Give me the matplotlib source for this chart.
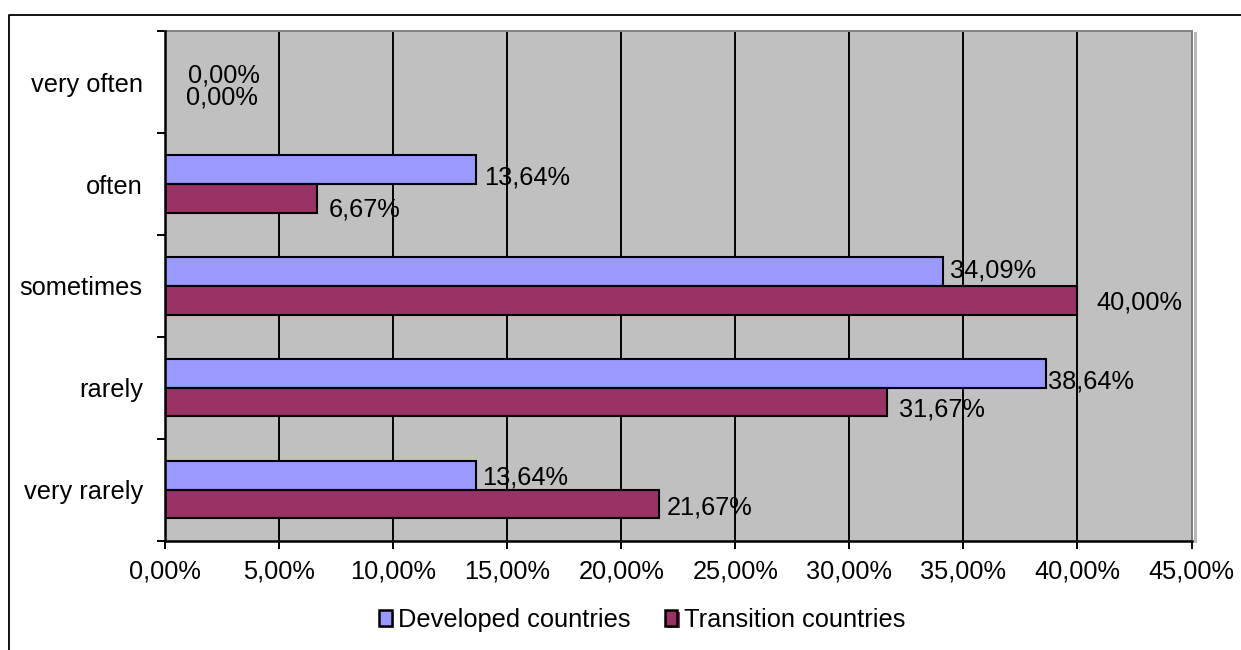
import matplotlib
matplotlib.use('Agg')
import matplotlib.pyplot as plt
from matplotlib.patches import Patch
from matplotlib.lines import Line2D
import matplotlib.patheffects as pe

plt.rcParams['font.family'] = ['Liberation Sans', 'DejaVu Sans']

categories = ["very often", "often", "sometimes", "rarely", "very rarely"]
developed = [0.00, 13.64, 34.09, 38.64, 13.64]
transition = [0.00, 6.67, 40.00, 31.67, 21.67]
x_ticks = [0, 5, 10, 15, 20, 25, 30, 35, 40, 45]
series_names = ["Developed countries", "Transition countries"]

# label nudges in pixels (Excel placed them a bit irregularly)
dev_dx = [23, 8, 7, 2, 6]
dev_dy = [-7.5, -7.5, 1, -8.5, -2.5]
tra_dx = [21, 12, 19, 12, 7]
tra_dy = [-1.2, -11, -2.5, -7.5, -3.5]

c_dev = "#9999FF"
c_tra = "#993366"
fs = 18.3


def fmt(v):
    return f"{v:.2f}".replace(".", ",") + "%"


W, H = 1241, 650
fig = plt.figure(figsize=(W / 100, H / 100), dpi=100)
ax = fig.add_axes([165 / W, 1 - 540.5 / H, 1026.5 / W, 509.2 / H])
ax.set_facecolor("#C0C0C0")

h = 0.282
ypos = list(range(len(categories)))
ax.barh([y - h / 2 for y in ypos], developed, height=h, color=c_dev,
        edgecolor="black", linewidth=1.5, zorder=3)
ax.barh([y + h / 2 for y in ypos], transition, height=h, color=c_tra,
        edgecolor="black", linewidth=1.5, zorder=3)

for i, y in enumerate(ypos):
    ax.annotate(fmt(developed[i]), (developed[i], y - h / 2),
                xytext=(dev_dx[i], dev_dy[i]), textcoords="offset pixels",
                ha="left", va="center", fontsize=fs, zorder=5)
    ax.annotate(fmt(transition[i]), (transition[i], y + h / 2),
                xytext=(tra_dx[i], tra_dy[i]), textcoords="offset pixels",
                ha="left", va="center", fontsize=fs, zorder=5)

ax.set_xlim(0, 45)
ax.set_ylim(len(categories) - 0.5, -0.5)

ax.set_xticks(x_ticks)
ax.set_xticklabels([fmt(t) for t in x_ticks])
ax.grid(axis="x", color="black", linewidth=1.4, zorder=1)
ax.set_axisbelow(True)

bounds = [i - 0.5 for i in range(len(categories) + 1)]
ax.set_yticks(bounds)
ax.set_yticklabels([])
ax.set_yticks(ypos, minor=True)
ax.set_yticklabels(categories, minor=True)

ax.tick_params(axis="x", which="major", length=6, width=1.4, direction="out",
               labelsize=fs, pad=8)
ax.tick_params(axis="y", which="major", length=6, width=1.4, direction="out")
ax.tick_params(axis="y", which="minor", length=0, labelsize=fs, pad=16)

for s in ["left", "bottom"]:
    ax.spines[s].set_color("black")
    ax.spines[s].set_linewidth(1.8)
    ax.spines[s].set_zorder(4)
for s in ["top", "right"]:
    ax.spines[s].set_color("#808080")
    ax.spines[s].set_linewidth(1.4)

# light shadow at the right edge of the plot area
fig.add_artist(Line2D([1194.5 / W, 1194.5 / W], [1 - 33 / H, 1 - 541 / H],
                      color="#B8B8B8", linewidth=2.2))

# outer chart border (cropped on right and bottom)
fig.add_artist(Line2D([9 / W, 9 / W, 1.01], [-0.01, 1 - 14.5 / H, 1 - 14.5 / H],
                      color="black", linewidth=1.3))

handles = [
    Patch(facecolor=c_dev, edgecolor="black", linewidth=1.8, label=series_names[0],
          path_effects=[pe.SimplePatchShadow(offset=(1.5, -1.5), shadow_rgbFace=c_dev, alpha=1.0),
                        pe.Normal()]),
    Patch(facecolor=c_tra, edgecolor="black", linewidth=1.8, label=series_names[1],
          path_effects=[pe.SimplePatchShadow(offset=(1.5, -1.5), shadow_rgbFace=c_tra, alpha=1.0),
                        pe.Normal()]),
]
fig.legend(handles=handles, loc="center", bbox_to_anchor=(642 / W, 1 - 620 / H),
           ncol=2, frameon=False, fontsize=fs, handlelength=0.5, handleheight=0.6,
           handletextpad=0.25, columnspacing=1.35, borderaxespad=0)

fig.savefig("out.png", dpi=100)
